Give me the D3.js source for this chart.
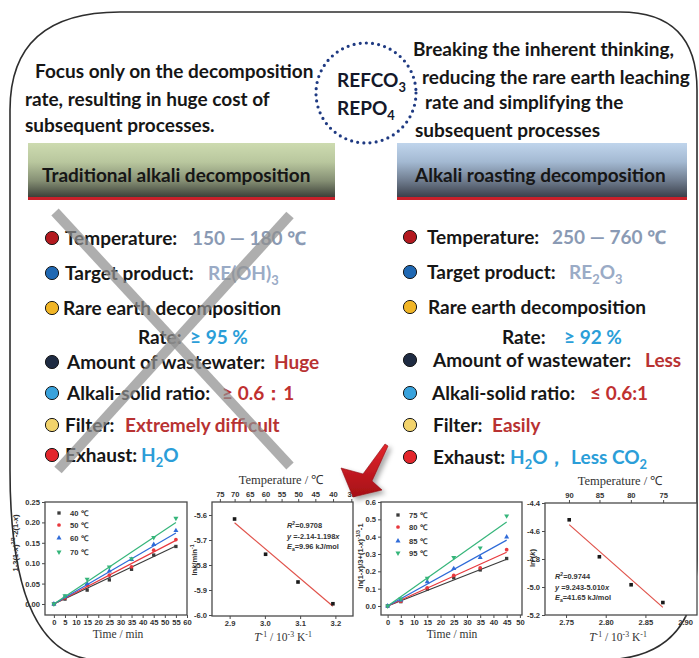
<!DOCTYPE html>
<html>
<head>
<meta charset="utf-8">
<script src="https://cdn.jsdelivr.net/npm/d3@7"></script>
<style>
  body { margin: 0; background: #fff; }
  svg { display: block; }
</style>
</head>
<body>
<svg id="chart" width="699" height="658"></svg>
<script>
// ---- text content ----
const introLeft = ["Focus only on the decomposition", "rate, resulting in huge cost of", "subsequent processes."];
const introRight = ["Breaking the inherent thinking,", "reducing the rare earth leaching", "rate and simplifying the", "subsequent processes"];
const oreNames = ["REFCO_3", "REPO_4"];
const headers = ["Traditional alkali decomposition", "Alkali roasting decomposition"];

const rowLabels = ["Temperature:", "Target product:", "Rare earth decomposition", "Rate:",
  "Amount of wastewater:", "Alkali-solid ratio:", "Filter:", "Exhaust:"];
const bulletColors = ["#b3191f", "#1f68b3", "#f1b526", null, "#1e2b42", "#38a2dc", "#f2d36c", "#e3262c"];
const leftValues = ["150  — 180  ℃", "RE(OH)_3", "", "≥  95 %", "Huge", "≥  0.6：1", "Extremely difficult", "H_2O"];
const rightValues = ["250  —  760 ℃", "RE_2O_3", "", "≥ 92 %", "Less", "≤  0.6:1", "Easily", "H_2O，  Less CO_2"];
const valueColors = ["#8a9ab4", "#9aabc6", null, "#2b9ed8", "#b83232", "#bf3030", "#b83232", "#2b9ed8"];

// ---- panel A: shrinking core, traditional ----
const timeA = [0, 5, 15, 25, 35, 45, 55];
const seriesA = ["40 ℃", "50 ℃", "60 ℃", "70 ℃"];
const valsA40 = [0, 0.012, 0.034, 0.059, 0.085, 0.120, 0.141];
const valsA50 = [0, 0.015, 0.046, 0.071, 0.091, 0.132, 0.158];
const valsA60 = [0, 0.018, 0.050, 0.081, 0.109, 0.146, 0.180];
const valsA70 = [0, 0.020, 0.061, 0.091, 0.111, 0.163, 0.210];
const fitEndA = [0.142, 0.156, 0.174, 0.200];

// ---- panel B: Arrhenius, traditional ----
const invTB = [2.914, 3.002, 3.094, 3.193];
const lnkB = [-5.616, -5.757, -5.868, -5.955];
const fitB = [-2.14, -1.198];
const topTempsB = [75, 70, 65, 60, 55, 50, 45, 40, 35];
const notesB = ["*R*^{2}=0.9708", "*y* =-2.14-1.198*x*", "*E*_{a}=9.96 kJ/mol"];

// ---- panel C: shrinking core, roasting ----
const timeC = [0, 5, 15, 25, 35, 45];
const seriesC = ["75 ℃", "80 ℃", "85 ℃", "95 ℃"];
const valsC75 = [0, 0.025, 0.098, 0.163, 0.208, 0.274];
const valsC80 = [0, 0.028, 0.105, 0.176, 0.220, 0.325];
const valsC85 = [0, 0.035, 0.140, 0.216, 0.280, 0.398];
const valsC95 = [0, 0.040, 0.160, 0.280, 0.335, 0.520];
const fitEndC = [0.270, 0.310, 0.380, 0.485];

// ---- panel D: Arrhenius, roasting ----
const invTD = [2.754, 2.792, 2.832, 2.872];
const lnkD = [-4.52, -4.784, -4.984, -5.111];
const fitD = [9.243, -5.010];
const topTempsD = [90, 85, 80, 75];
const notesD = ["*R*^{2}=0.9744", "*y* =9.243-5.010*x*", "*E*_{a}=41.65 kJ/mol"];

const MAIN = "Lato, 'Noto Sans', 'DejaVu Sans', sans-serif";
const SANS = "'Liberation Sans', Arial, sans-serif";
const SERIF = "'Liberation Serif', 'Times New Roman', serif";
const seriesColors = ["#3b3b3b", "#e8383d", "#2f6bd8", "#35b57a"];
const markerTypes = [d3.symbolSquare, d3.symbolCircle, d3.symbolTriangle, d3.symbolTriangle];
const markerRot = [0, 0, 0, 180];

const svg = d3.select("#chart");
const defs = svg.append("defs");

function grad(id, stops) {
  const lg = defs.append("linearGradient").attr("id", id)
    .attr("x1", 0).attr("y1", 0).attr("x2", 0).attr("y2", 1);
  stops.forEach(s => lg.append("stop").attr("offset", s[0]).attr("stop-color", s[1]));
}
grad("gGreen", [[0, "#cddbb0"], [0.35, "#b9c79e"], [0.7, "#858f74"], [1, "#3c4039"]]);
grad("gBlue", [[0, "#c0d5ec"], [0.35, "#a3b9d2"], [0.7, "#6f7c8e"], [1, "#3b404b"]]);
grad("gArrow", [[0, "#e2262c"], [1, "#a50f16"]]);
defs.append("filter").attr("id", "shadow").attr("x", "-30%").attr("y", "-30%")
  .attr("width", "160%").attr("height", "160%")
  .append("feDropShadow").attr("dx", 3).attr("dy", 3).attr("stdDeviation", 2.5)
  .attr("flood-color", "#000").attr("flood-opacity", 0.35);

// small markup: _x / _{..} subscript, ^{..} superscript, *..* italic
function rich(sel, str, size) {
  let shift = 0;
  str.split(/(_\{[^}]*\}|\^\{[^}]*\}|_.|\*[^*]*\*)/).filter(s => s !== "").forEach(tok => {
    let txt = tok, dy = 0, small = false, it = false;
    if (tok.startsWith("_{")) { txt = tok.slice(2, -1); dy = 0.28; small = true; }
    else if (tok.startsWith("^{")) { txt = tok.slice(2, -1); dy = -0.38; small = true; }
    else if (tok[0] === "_" && tok.length === 2) { txt = tok[1]; dy = 0.28; small = true; }
    else if (tok[0] === "*" && tok.length > 2 && tok.endsWith("*")) { txt = tok.slice(1, -1); it = true; }
    const t = sel.append("tspan").text(txt);
    const target = dy * size;
    if (target !== shift) t.attr("dy", target - shift);
    shift = target;
    if (small) t.attr("font-size", size * 0.68);
    if (it) t.attr("font-style", "italic");
  });
}

function label(x, y, str, opt = {}) {
  const size = opt.size || 19;
  const t = svg.append("text").attr("x", x).attr("y", y)
    .attr("font-family", opt.font || MAIN)
    .attr("font-size", size)
    .attr("font-weight", opt.weight || "bold")
    .attr("fill", opt.color || "#161616");
  if (opt.anchor) t.attr("text-anchor", opt.anchor);
  if (opt.rotate) t.attr("transform", `rotate(-90,${x},${y})`);
  rich(t, str, size);
  return t;
}

// outer rounded frame
svg.append("path")
  .attr("d", "M10,470 L10,110 Q10,12 120,12 L620,12 Q697,12 697,90 L697,560 Q697,660 600,660 L100,660 Q10,660 10,470 Z")
  .attr("fill", "none").attr("stroke", "#2e2e2e").attr("stroke-width", 1.6);

// intro texts
const introLeftX = [35, 25, 25];
introLeft.forEach((s, i) => label(introLeftX[i], [78, 106, 132][i], s));
const introRightX = [413, 422, 425, 415];
introRight.forEach((s, i) => label(introRightX[i], [56, 84, 109, 137][i], s));

// dotted ring with ores
svg.append("circle").attr("cx", 366).attr("cy", 93).attr("r", 50)
  .attr("fill", "none").attr("stroke", "#1f3a82").attr("stroke-width", 3.2)
  .attr("stroke-linecap", "round").attr("stroke-dasharray", "0 6.2");
oreNames.forEach((s, i) => label(337, [87, 115][i], s, {color: "#14182a"}));

// header bars
const headerBox = [[28, 335, "gGreen", 42], [397, 687, "gBlue", 415]];
headerBox.forEach((h, i) => {
  svg.append("rect").attr("x", h[0]).attr("y", 143).attr("width", h[1] - h[0]).attr("height", 54)
    .attr("fill", `url(#${h[2]})`);
  svg.append("rect").attr("x", h[0]).attr("y", 197).attr("width", h[1] - h[0]).attr("height", 3)
    .attr("fill", "#c8202a");
  label(h[3], 182, headers[i]);
});

// feature lists
const rowYL = [238, 273, 308, 337, 362, 393, 425, 455];
const rowYR = [237, 272, 307, 337, 360, 393, 425, 457];
const labXL = [65, 65, 63, 138, 67, 67, 65, 65];
const labXR = [427, 427, 428, 502, 433, 432, 433, 433];
const valXL = [192, 208, 0, 190, 274, 222, 125, 141];
const valXR = [552, 569, 0, 564, 645, 590, 492, 510];

function list(rowY, labX, valX, vals, bx) {
  rowLabels.forEach((s, i) => {
    if (bulletColors[i]) {
      svg.append("circle").attr("cx", bx).attr("cy", rowY[i]).attr("r", 6.6)
        .attr("fill", bulletColors[i]).attr("stroke", "#1a1a1a").attr("stroke-width", 1);
    }
    label(labX[i], rowY[i] + 6.5, s);
    if (vals[i]) label(valX[i], rowY[i] + 6.5, vals[i], {color: valueColors[i]});
  });
}
list(rowYL, labXL, valXL, leftValues, 52);
list(rowYR, labXR, valXR, rightValues, 410);

// grey cross over the traditional route
[[55, 212, 290, 466], [290, 215, 58, 470]].forEach(l => {
  svg.append("line").attr("x1", l[0]).attr("y1", l[1]).attr("x2", l[2]).attr("y2", l[3])
    .attr("stroke", "#909090").attr("stroke-width", 10).attr("opacity", 0.72);
});

// ---- small plots ----
function panel(cfg) {
  const g = svg.append("g");
  const x = d3.scaleLinear().domain(cfg.xDomain).range([cfg.x0, cfg.x1]);
  const y = d3.scaleLinear().domain(cfg.yDomain).range([cfg.y1, cfg.y0]);
  g.append("rect").attr("x", cfg.x0).attr("y", cfg.y0)
    .attr("width", cfg.x1 - cfg.x0).attr("height", cfg.y1 - cfg.y0)
    .attr("fill", "#fff").attr("stroke", "#4a4a4a").attr("stroke-width", 1.3);
  const style = sel => {
    sel.attr("font-family", SANS).attr("font-size", 7.6).attr("font-weight", "bold");
    sel.select(".domain").remove();
    sel.selectAll(".tick line").attr("stroke", "#4a4a4a");
    sel.selectAll(".tick text").attr("fill", "#333");
  };
  g.append("g").attr("transform", `translate(0,${cfg.y1})`)
    .call(d3.axisBottom(x).tickValues(cfg.xTicks).tickFormat(cfg.xFmt).tickSize(3).tickPadding(2))
    .call(style);
  g.append("g").attr("transform", `translate(${cfg.x0},0)`)
    .call(d3.axisLeft(y).tickValues(cfg.yTicks).tickFormat(cfg.yFmt).tickSize(3).tickPadding(2))
    .call(style);
  if (cfg.topTemps) {
    const pos = cfg.topTemps.map(t => 1000 / (t + 273.15));
    g.append("g").attr("transform", `translate(0,${cfg.y0})`)
      .call(d3.axisTop(x).tickValues(pos).tickFormat((d, i) => cfg.topTemps[i]).tickSize(3).tickPadding(2))
      .call(style);
  }
  return {g, x, y};
}

function kinetics(cfg, times, series, names, fitEnd, legX, legY) {
  const p = panel(cfg);
  series.forEach((vals, k) => {
    p.g.append("line")
      .attr("x1", p.x(0)).attr("y1", p.y(0))
      .attr("x2", p.x(times[times.length - 1])).attr("y2", p.y(fitEnd[k]))
      .attr("stroke", seriesColors[k]).attr("stroke-width", 1.2);
    p.g.selectAll(null).data(vals).enter().append("path")
      .attr("d", d3.symbol().type(markerTypes[k]).size(11))
      .attr("transform", (d, i) => `translate(${p.x(times[i])},${p.y(d)}) rotate(${markerRot[k]})`)
      .attr("fill", seriesColors[k]);
    p.g.append("path")
      .attr("d", d3.symbol().type(markerTypes[k]).size(11))
      .attr("transform", `translate(${legX},${legY[k]}) rotate(${markerRot[k]})`)
      .attr("fill", seriesColors[k]);
    label(legX + 11, legY[k] + 3, names[k], {font: SANS, size: 7.6, color: "#333"});
  });
  return p;
}

function arrhenius(cfg, xs, ys, fit, notes, noteX, noteY) {
  const p = panel(cfg);
  const ends = [xs[0], xs[xs.length - 1]];
  p.g.append("line")
    .attr("x1", p.x(ends[0])).attr("y1", p.y(fit[0] + fit[1] * ends[0]))
    .attr("x2", p.x(ends[1])).attr("y2", p.y(fit[0] + fit[1] * ends[1]))
    .attr("stroke", "#e0524a").attr("stroke-width", 1.2);
  p.g.selectAll(null).data(ys).enter().append("rect")
    .attr("x", (d, i) => p.x(xs[i]) - 1.8).attr("y", d => p.y(d) - 1.8)
    .attr("width", 3.6).attr("height", 3.6).attr("fill", "#1a1a1a");
  notes.forEach((s, i) => label(noteX, noteY + i * 10.5, s, {font: SANS, size: 7.4, color: "#333"}));
  return p;
}

kinetics({x0: 45, x1: 187, y0: 502, y1: 615, xDomain: [-4, 60], yDomain: [-0.027, 0.25],
  xTicks: d3.range(0, 61, 5), xFmt: d => d, yTicks: d3.range(0, 0.26, 0.05), yFmt: d => d.toFixed(2)},
  timeA, [valsA40, valsA50, valsA60, valsA70], seriesA, fitEndA, 59, [513, 525, 538, 552]);

arrhenius({x0: 212, x1: 353, y0: 502, y1: 616, xDomain: [2.85, 3.25], yDomain: [-6.004, -5.548],
  xTicks: [2.9, 3.0, 3.1, 3.2], xFmt: d => d.toFixed(1),
  yTicks: [-5.6, -5.7, -5.8, -5.9, -6.0], yFmt: d => d.toFixed(1), topTemps: topTempsB},
  invTB, lnkB, fitB, notesB, 287, 528);

kinetics({x0: 381, x1: 522, y0: 502, y1: 615, xDomain: [-2.5, 50.8], yDomain: [-0.052, 0.6],
  xTicks: d3.range(0, 51, 5), xFmt: d => d, yTicks: d3.range(0, 0.61, 0.1), yFmt: d => d.toFixed(1)},
  timeC, [valsC75, valsC80, valsC85, valsC95], seriesC, fitEndC, 398, [515, 527, 541, 553]);

arrhenius({x0: 545, x1: 697, y0: 503, y1: 615, xDomain: [2.7235, 2.915], yDomain: [-5.2, -4.4],
  xTicks: [2.75, 2.80, 2.85, 2.90], xFmt: d => d.toFixed(2),
  yTicks: [-4.4, -4.6, -4.8, -5.0, -5.2], yFmt: d => d.toFixed(1), topTemps: topTempsD},
  invTD, lnkD, fitD, notesD, 555, 579);

// axis titles
const axisTitles = [
  [18, 543, "1-3(1-*x*)^{2/3}-2(1-*x*)", SANS, 7.6, true],
  [118, 638, "Time / min", SERIF, 11.5, false],
  [281, 484, "Temperature / ℃", SERIF, 12.5, false],
  [283, 641, "*T*^{-1} / 10^{-3} K^{-1}", SERIF, 11.5, false],
  [197, 560, "ln*k*/min^{-1}", SANS, 7.6, true],
  [363, 556, "ln(1-*x*)/3+(1-*x*)^{-1/3}-1", SANS, 7.6, true],
  [452, 638, "Time / min", SERIF, 11.5, false],
  [535, 558, "ln (*k*)", SANS, 7.6, true],
  [620, 485, "Temperature / ℃", SERIF, 12.5, false],
  [618, 641, "*T*^{-1} / 10^{-3} K^{-1}", SERIF, 11.5, false]
];
axisTitles.forEach(a => label(a[0], a[1], a[2], {font: a[3], size: a[4], anchor: "middle",
  rotate: a[5], weight: a[3] === SANS ? "bold" : "normal", color: "#333"}));

// red arrow between the two routes
svg.append("path")
  .attr("d", "M385,444 L363,474 L341,468 L353,497 L382,490 L372,481 L388,446 Z")
  .attr("fill", "url(#gArrow)").attr("stroke", "#8e0c12").attr("stroke-width", 0.6)
  .attr("filter", "url(#shadow)");
</script>
</body>
</html>
